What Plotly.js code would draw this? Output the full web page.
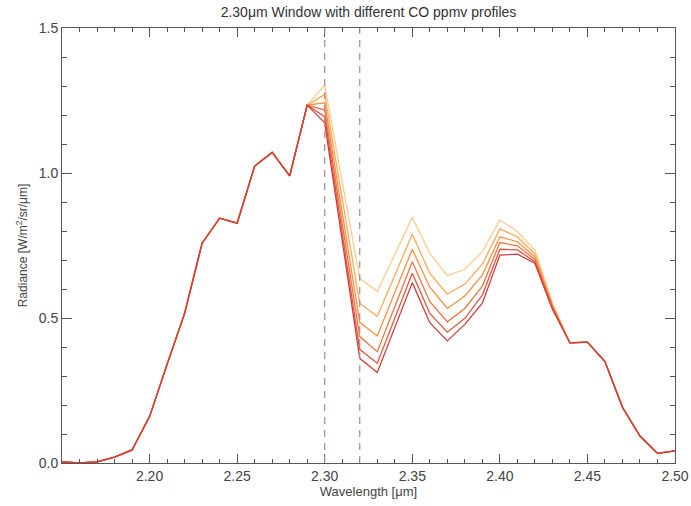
<!DOCTYPE html>
<html>
<head>
<meta charset="utf-8">
<script src="https://cdn.plot.ly/plotly-3.0.1.min.js"></script>
<style>html,body{margin:0;padding:0;background:#fff;}#chart{width:691px;height:506px;}</style>
</head>
<body>
<div id="chart"></div>
<script>
// Wavelength samples (µm)
const wavelength = [2.15,2.16,2.17,2.18,2.19,2.20,2.21,2.22,2.23,2.24,2.25,2.26,2.27,2.28,2.29,
                    2.30,2.32,2.33,2.35,2.36,2.37,2.38,2.39,2.40,2.41,2.42,2.43,
                    2.44,2.45,2.46,2.47,2.48,2.49,2.50];
// Common part (identical for all profiles)
const headCommon = [0.004,0.0,0.004,0.02,0.045,0.16,0.34,0.516,0.758,0.844,0.827,1.024,1.071,0.99,1.234];
const tailCommon = [0.414,0.417,0.35,0.192,0.093,0.033,0.042];
// CO-sensitive part, one array per ppmv profile (2.30 ... 2.43)
const profile1 = [1.303,0.637,0.591,0.847,0.723,0.646,0.668,0.729,0.838,0.798,0.734,0.551];
const profile2 = [1.271,0.551,0.505,0.789,0.654,0.582,0.617,0.686,0.807,0.780,0.721,0.546];
const profile3 = [1.242,0.485,0.438,0.737,0.606,0.533,0.576,0.648,0.780,0.763,0.711,0.542];
const profile4 = [1.217,0.436,0.384,0.694,0.556,0.487,0.533,0.610,0.760,0.749,0.702,0.538];
const profile5 = [1.194,0.392,0.344,0.654,0.516,0.451,0.499,0.579,0.737,0.735,0.694,0.534];
const profile6 = [1.173,0.361,0.312,0.622,0.484,0.421,0.478,0.551,0.717,0.720,0.689,0.530];
const profiles = [profile1,profile2,profile3,profile4,profile5,profile6];
const colors = ['#ffcb8e','#ffa955','#ff8f3f','#f37440','#e35840','#d43c3c'];
const windowEdges = [2.30, 2.32];
const xTickVals = [2.20,2.25,2.30,2.35,2.40,2.45,2.50];
const yTickVals = [0.0,0.5,1.0,1.5];

const FONT = 'Liberation Sans, Arial, sans-serif';

const traces = profiles.map((p,i)=>({
  x: wavelength,
  y: headCommon.concat(p, tailCommon),
  mode: 'lines',
  type: 'scatter',
  line: {color: colors[i], width: 1.3},
  showlegend: false,
  hoverinfo: 'skip'
}));
// invisible companion trace so that the mirrored top/right axes are drawn
traces.push({
  x: wavelength, y: headCommon.concat(profile6, tailCommon),
  xaxis:'x2', yaxis:'y2', mode:'lines', type:'scatter',
  line:{color:'rgba(0,0,0,0)', width:0}, showlegend:false, hoverinfo:'skip'
});

const shapes = windowEdges.map(w=>({
  type:'line', xref:'x', yref:'paper', x0:w, x1:w, y0:0, y1:1,
  line:{color:'#a88c8c', width:1.2, dash:'7px,6px'}
}));

const axisCommon = {
  showgrid:false, zeroline:false, showline:true, linecolor:'#555', linewidth:1,
  ticks:'inside', tickcolor:'#555', tickwidth:1,
  tickfont:{family:FONT, size:14, color:'#444'}
};
const xMinor = {ticks:'inside', dtick:0.01, tick0:2.15, ticklen:4, tickcolor:'#555', tickwidth:1};
const yMinor = {ticks:'inside', dtick:0.1, tick0:0, ticklen:5, tickcolor:'#555', tickwidth:1};

const layout = {
  width:691, height:506,
  margin:{l:62, r:16, t:28, b:43},
  paper_bgcolor:'#fff', plot_bgcolor:'#fff',
  title:{text:'2.30μm Window with different CO ppmv profiles',
         font:{family:FONT, size:14, color:'#333'},
         x:0.5, xref:'paper', y:0.976, yanchor:'middle'},
  xaxis: Object.assign({}, axisCommon, {
    range:[2.15,2.50], tickvals:xTickVals, tickformat:'.2f', ticklen:9,
    minor:xMinor,
    title:{text:'Wavelength [μm]', font:{family:FONT, size:13, color:'#444'}, standoff:3}
  }),
  yaxis: Object.assign({}, axisCommon, {
    range:[0,1.5], tickvals:yTickVals, tickformat:'.1f', ticklen:10,
    minor:yMinor,
    title:{text:'Radiance [W/m<sup>2</sup>/sr/μm]', font:{family:FONT, size:12, color:'#444'}, standoff:8}
  }),
  xaxis2: Object.assign({}, axisCommon, {
    range:[2.15,2.50], tickvals:xTickVals, ticklen:9, showticklabels:false,
    minor:xMinor, overlaying:'x', side:'top', anchor:'y2'
  }),
  yaxis2: Object.assign({}, axisCommon, {
    range:[0,1.5], tickvals:yTickVals, ticklen:10, showticklabels:false,
    minor:yMinor, overlaying:'y', side:'right', anchor:'x2'
  }),
  shapes: shapes
};

Plotly.newPlot('chart', traces, layout, {staticPlot:true, displayModeBar:false});
</script>
</body>
</html>
